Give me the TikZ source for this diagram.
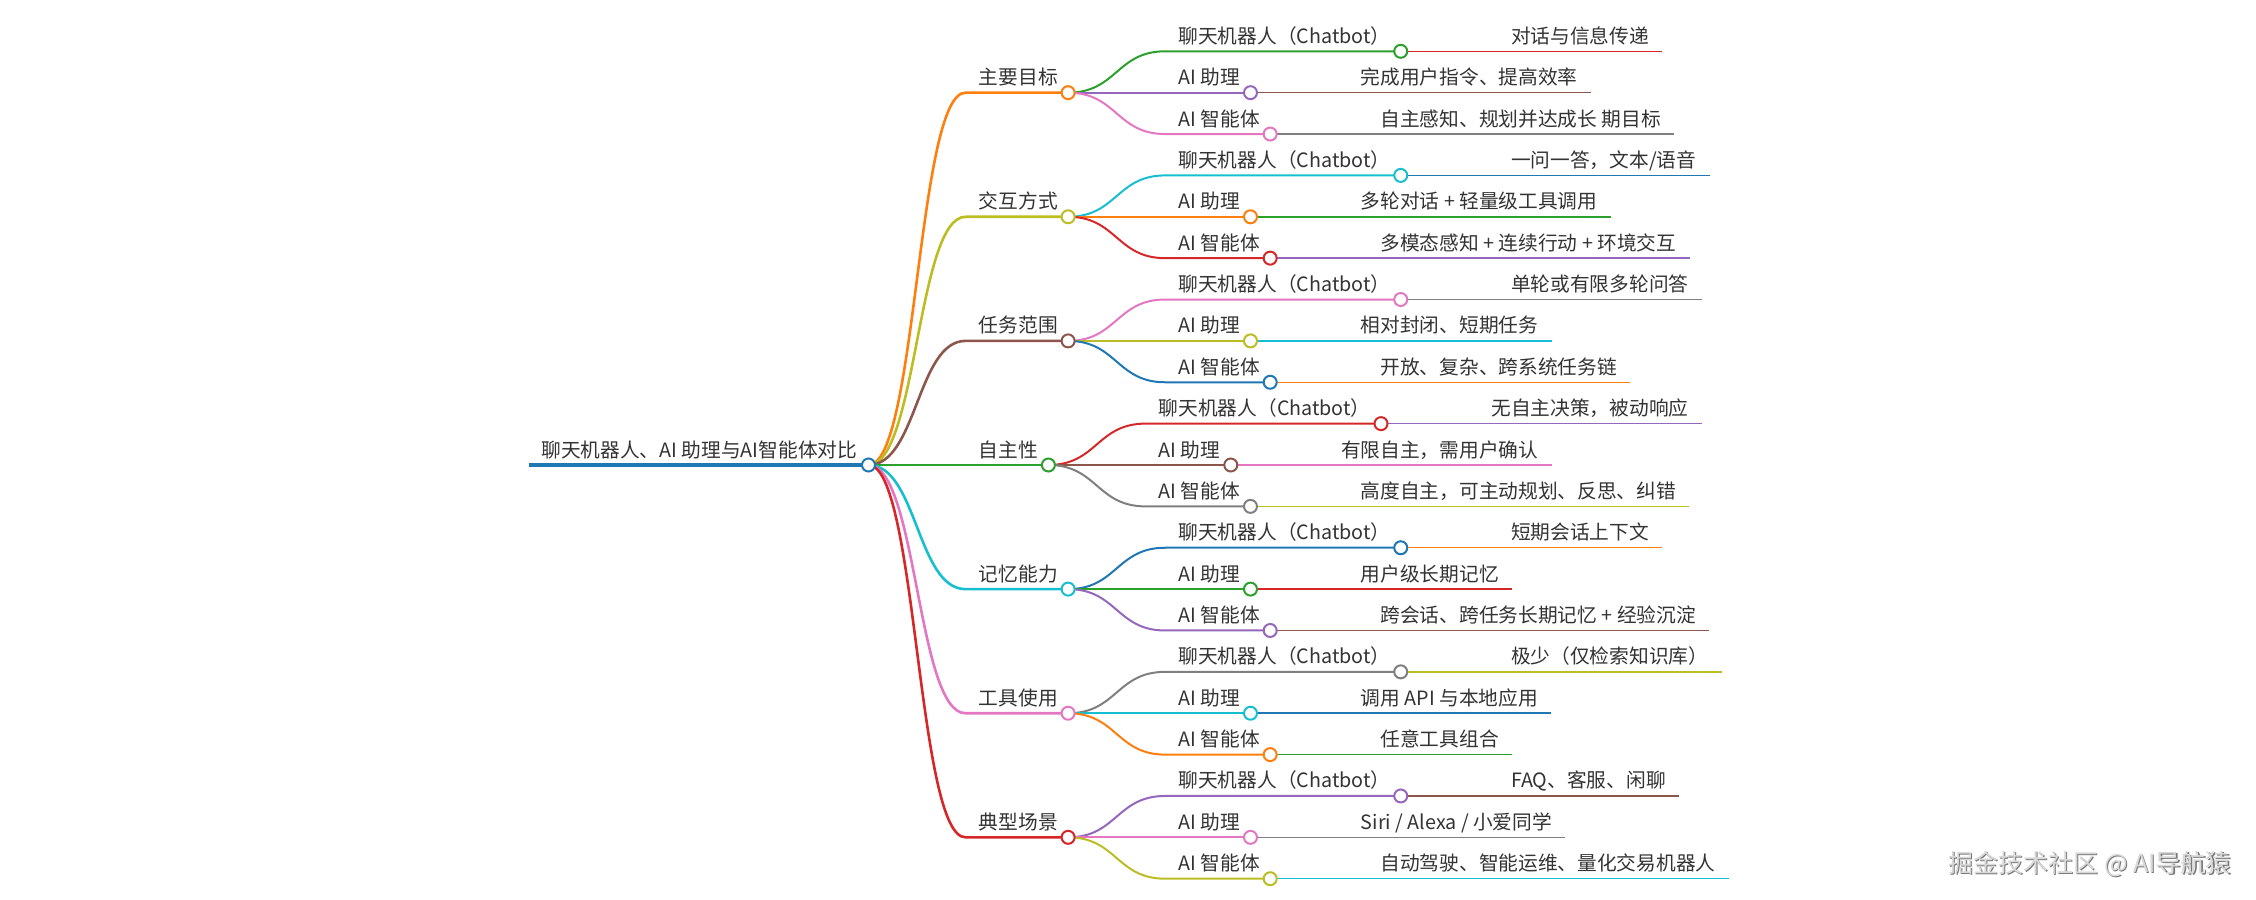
\documentclass[tikz,border=0pt]{standalone}
\usepackage{fontspec}
\setmainfont{Noto Sans CJK SC}
\usetikzlibrary{calc}
\pgfdeclarelayer{bg}
\pgfsetlayers{bg,main}
\definecolor{c0}{HTML}{1F77B4}
\definecolor{c1}{HTML}{FF7F0E}
\definecolor{c2}{HTML}{2CA02C}
\definecolor{c3}{HTML}{D62728}
\definecolor{c4}{HTML}{9467BD}
\definecolor{c5}{HTML}{8C564B}
\definecolor{c6}{HTML}{E377C2}
\definecolor{c7}{HTML}{7F7F7F}
\definecolor{c8}{HTML}{BCBD22}
\definecolor{c9}{HTML}{17BECF}
\definecolor{txt}{HTML}{333333}
\definecolor{wmdark}{HTML}{7A7A7A}
\definecolor{wmlight}{HTML}{D8D8D8}
\tikzset{
  mmtext/.style={inner sep=0pt, anchor=base west, text=txt, font=\fontsize{9.85}{12}\selectfont},
  mmdot/.style={circle, draw=#1, fill=white, line width=1pt, inner sep=0pt, minimum size=6.5pt},
  wmtext/.style={inner sep=0pt, anchor=base west, font=\fontsize{12.5}{14}\selectfont},
}
% branch node: name, parent circle, colour, width, y, text
\newcommand\mmbranch[6]{%
  \coordinate (#1y) at (0,#5);
  \coordinate (#1s) at ($(#2 |- #1y)+(97,0)$);
  \node[mmtext] (#1) at ($(#1s)+(13,-8)$) {#6};
  \coordinate (#1e) at (#1.base east |- #1s);
  \node[mmdot=#3] (#1c) at ($(#1e)+(10,0)$) {};
  \begin{pgfonlayer}{bg}
  \draw[#3, line width=#4] let \p1=(#2.center), \p2=(#1s) in
    (\p1) .. controls ({(\x1+\x2)/2},\y1) and ({(\x1+\x2)/2},\y2) .. (\p2) -- (#1c.center);
  \end{pgfonlayer}
}
% leaf node: name, parent circle, colour, text
\newcommand\mmleaf[4]{%
  \node[mmtext] (#1) at ($(#2.center)+(110,-8)$) {#4};
  \coordinate (#1e) at ($(#1.base east |- #2.center)+(13,0)$);
  \begin{pgfonlayer}{bg}
  \draw[#3, line width=0.75pt] (#2.center) -- (#1e);
  \end{pgfonlayer}
}
\begin{document}
\begin{tikzpicture}[x=0.5pt, y=-0.5pt]
\useasboundingbox (0,0) rectangle (2256,900);

% root
\coordinate (roots) at (529,465);
\node[mmtext] (root) at (541,457) {聊天机器人、AI 助理与AI智能体对比};
\node[mmdot=c0] (rootc) at ($(root.base east |- roots)+(11,0)$) {};
\begin{pgfonlayer}{bg}
\draw[c0, line width=2pt] (roots) -- (rootc.center);
\end{pgfonlayer}

% 主要目标
\mmbranch{a}{rootc}{c1}{1.3pt}{92.67}{主要目标}
\mmbranch{a1}{ac}{c2}{1pt}{51.3}{聊天机器人（Chatbot）}
\mmleaf{a1x}{a1c}{c3}{对话与信息传递}
\mmbranch{a2}{ac}{c4}{1pt}{92.67}{AI 助理}
\mmleaf{a2x}{a2c}{c5}{完成用户指令、提高效率}
\mmbranch{a3}{ac}{c6}{1pt}{134.04}{AI 智能体}
\mmleaf{a3x}{a3c}{c7}{自主感知、规划并达成长 期目标}

% 交互方式
\mmbranch{b}{rootc}{c8}{1.3pt}{216.78}{交互方式}
\mmbranch{b1}{bc}{c9}{1pt}{175.41}{聊天机器人（Chatbot）}
\mmleaf{b1x}{b1c}{c0}{一问一答，文本/语音}
\mmbranch{b2}{bc}{c1}{1pt}{216.78}{AI 助理}
\mmleaf{b2x}{b2c}{c2}{多轮对话 + 轻量级工具调用}
\mmbranch{b3}{bc}{c3}{1pt}{258.15}{AI 智能体}
\mmleaf{b3x}{b3c}{c4}{多模态感知 + 连续行动 + 环境交互}

% 任务范围
\mmbranch{d}{rootc}{c5}{1.3pt}{340.89}{任务范围}
\mmbranch{d1}{dc}{c6}{1pt}{299.52}{聊天机器人（Chatbot）}
\mmleaf{d1x}{d1c}{c7}{单轮或有限多轮问答}
\mmbranch{d2}{dc}{c8}{1pt}{340.89}{AI 助理}
\mmleaf{d2x}{d2c}{c9}{相对封闭、短期任务}
\mmbranch{d3}{dc}{c0}{1pt}{382.26}{AI 智能体}
\mmleaf{d3x}{d3c}{c1}{开放、复杂、跨系统任务链}

% 自主性
\mmbranch{f}{rootc}{c2}{1.3pt}{465}{自主性}
\mmbranch{f1}{fc}{c3}{1pt}{423.63}{聊天机器人（Chatbot）}
\mmleaf{f1x}{f1c}{c4}{无自主决策，被动响应}
\mmbranch{f2}{fc}{c5}{1pt}{465}{AI 助理}
\mmleaf{f2x}{f2c}{c6}{有限自主，需用户确认}
\mmbranch{f3}{fc}{c7}{1pt}{506.37}{AI 智能体}
\mmleaf{f3x}{f3c}{c8}{高度自主，可主动规划、反思、纠错}

% 记忆能力
\mmbranch{g}{rootc}{c9}{1.3pt}{589.11}{记忆能力}
\mmbranch{g1}{gc}{c0}{1pt}{547.74}{聊天机器人（Chatbot）}
\mmleaf{g1x}{g1c}{c1}{短期会话上下文}
\mmbranch{g2}{gc}{c2}{1pt}{589.11}{AI 助理}
\mmleaf{g2x}{g2c}{c3}{用户级长期记忆}
\mmbranch{g3}{gc}{c4}{1pt}{630.48}{AI 智能体}
\mmleaf{g3x}{g3c}{c5}{跨会话、跨任务长期记忆 + 经验沉淀}

% 工具使用
\mmbranch{h}{rootc}{c6}{1.3pt}{713.22}{工具使用}
\mmbranch{h1}{hc}{c7}{1pt}{671.85}{聊天机器人（Chatbot）}
\mmleaf{h1x}{h1c}{c8}{极少（仅检索知识库）}
\mmbranch{h2}{hc}{c9}{1pt}{713.22}{AI 助理}
\mmleaf{h2x}{h2c}{c0}{调用 API 与本地应用}
\mmbranch{h3}{hc}{c1}{1pt}{754.59}{AI 智能体}
\mmleaf{h3x}{h3c}{c2}{任意工具组合}

% 典型场景
\mmbranch{k}{rootc}{c3}{1.3pt}{837.33}{典型场景}
\mmbranch{k1}{kc}{c4}{1pt}{795.96}{聊天机器人（Chatbot）}
\mmleaf{k1x}{k1c}{c5}{FAQ、客服、闲聊}
\mmbranch{k2}{kc}{c6}{1pt}{837.33}{AI 助理}
\mmleaf{k2x}{k2c}{c7}{Siri / Alexa / 小爱同学}
\mmbranch{k3}{kc}{c8}{1pt}{878.7}{AI 智能体}
\mmleaf{k3x}{k3c}{c9}{自动驾驶、智能运维、量化交易机器人}

% watermark
\node[wmtext, text=wmdark] (wms) at (1949.5,873.5) {掘金技术社区 @ AI导航猿};
\node[wmtext, text=wmlight] (wm) at (1948,872) {掘金技术社区 @ AI导航猿};
\end{tikzpicture}
\end{document}
